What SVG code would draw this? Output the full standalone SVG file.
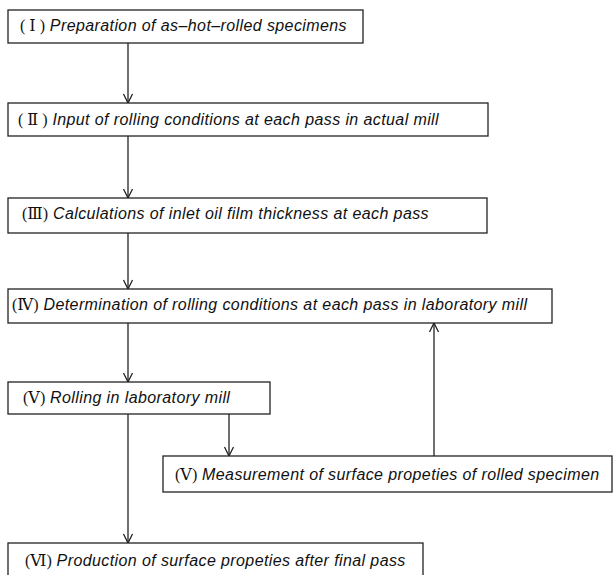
<svg xmlns="http://www.w3.org/2000/svg" width="613" height="575" viewBox="0 0 613 575">
<style>
.box{fill:#fff;stroke:#222;stroke-width:1.3}
.t{font-family:"Liberation Sans",Arial,sans-serif;font-style:italic;font-size:16px;letter-spacing:0.4px;fill:#111}
.n{font-family:"Liberation Serif","DejaVu Serif","Noto Sans CJK JP",serif;font-style:normal;letter-spacing:0}
.c{stroke:#222;stroke-width:1.3;fill:none;marker-end:url(#ah)}
</style>
<defs>
<marker id="ah" markerWidth="12" markerHeight="12" viewBox="-11 -6 12 12" refX="0" refY="0" orient="auto" markerUnits="userSpaceOnUse">
<path d="M-9,-4.5 L0,0 L-9,4.5" fill="none" stroke="#222" stroke-width="1.3"/>
</marker>
</defs>
<rect width="613" height="575" fill="#fff"/>
<g id="connectors">
<line class="c" x1="128" y1="43" x2="128" y2="103"/>
<line class="c" x1="128" y1="136" x2="128" y2="198"/>
<line class="c" x1="128" y1="233" x2="128" y2="289"/>
<line class="c" x1="128" y1="323" x2="128" y2="382"/>
<line class="c" x1="128" y1="414" x2="128" y2="543"/>
<line class="c" x1="229" y1="414" x2="229" y2="456"/>
<line class="c" x1="434" y1="456" x2="434" y2="323"/>
</g>
<g id="n1"><rect class="box" x="8" y="10" width="355" height="33"/>
<text class="t" x="20" y="31"><tspan class="n">( Ⅰ )</tspan> Preparation of as–hot–rolled specimens</text></g>
<g id="n2"><rect class="box" x="8" y="103" width="480" height="33"/>
<text class="t" x="18" y="125"><tspan class="n">( Ⅱ )</tspan> Input of rolling conditions at each pass in actual mill</text></g>
<g id="n3"><rect class="box" x="8" y="198" width="479" height="35"/>
<text class="t" x="22" y="219"><tspan class="n">(Ⅲ)</tspan> Calculations of inlet oil film thickness at each pass</text></g>
<g id="n4"><rect class="box" x="8" y="289" width="544" height="34"/>
<text class="t" x="12" y="310"><tspan class="n">(Ⅳ)</tspan> Determination of rolling conditions at each pass in laboratory mill</text></g>
<g id="n5"><rect class="box" x="8" y="382" width="262" height="32"/>
<text class="t" x="23" y="403"><tspan class="n">(Ⅴ)</tspan> Rolling in laboratory mill</text></g>
<g id="n6"><rect class="box" x="163" y="456" width="449" height="36"/>
<text class="t" x="175" y="480"><tspan class="n">(Ⅴ)</tspan> Measurement of surface propeties of rolled specimen</text></g>
<g id="n7"><rect class="box" x="8" y="543" width="415" height="40"/>
<text class="t" x="25" y="566"><tspan class="n">(Ⅵ)</tspan> Production of surface propeties after final pass</text></g>
</svg>
